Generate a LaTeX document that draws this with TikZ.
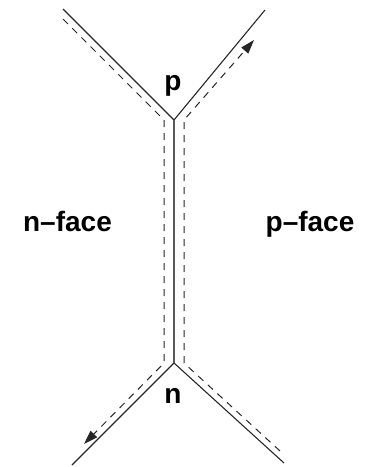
\documentclass[tikz,border=0pt]{standalone}
\usepackage{fontspec}
\setmainfont{Liberation Sans}
\usetikzlibrary{arrows.meta}
\begin{document}
\begin{tikzpicture}[x=1pt,y=-1pt,
  edge/.style={line width=1.1pt, black!85},
  flow/.style={line width=1pt, dash pattern=on 7pt off 6pt, black!85},
  tipped/.style={-{Triangle[length=14pt,width=9pt]}},
  lbl/.style={font=\fontsize{28}{30}\selectfont\bfseries, inner sep=0pt, anchor=base}]
\useasboundingbox (0,0) rectangle (370,467);
% junction points and free ends of the edges
\coordinate (P) at (174,120);
\coordinate (N) at (174,363);
\coordinate (tl) at (63,9);
\coordinate (tr) at (265,10);
\coordinate (bl) at (72,465);
\coordinate (br) at (284,463);
% solid edges
\draw[edge] (tl) -- (P) -- (tr);
\draw[edge] (bl) -- (N) -- (br);
\draw[edge, black!65, line width=1.4pt] (P) -- (N);
% left dashed path, running down the n-face side
\coordinate (a1) at (63,19);
\coordinate (a2) at (164,120);
\coordinate (a3) at (164,363);
\coordinate (a4) at (84,444);
\draw[flow, tipped] (a1) -- (a2) -- (a3) -- (a4);
% right dashed path, running up the p-face side
\coordinate (b1) at (280,451);
\coordinate (b2) at (184,363);
\coordinate (b3) at (184,120);
\coordinate (b4) at (254,40);
\draw[flow, tipped] (b1) -- (b2) -- (b3) -- (b4);
% labels
\node[lbl] (lp) at (173,90.5) {p};
\node[lbl] (ln) at (173,403) {n};
\node[lbl] (lnf) at (67.5,231.5) {n--face};
\node[lbl] (lpf) at (310,231.5) {p--face};
\end{tikzpicture}
\end{document}
